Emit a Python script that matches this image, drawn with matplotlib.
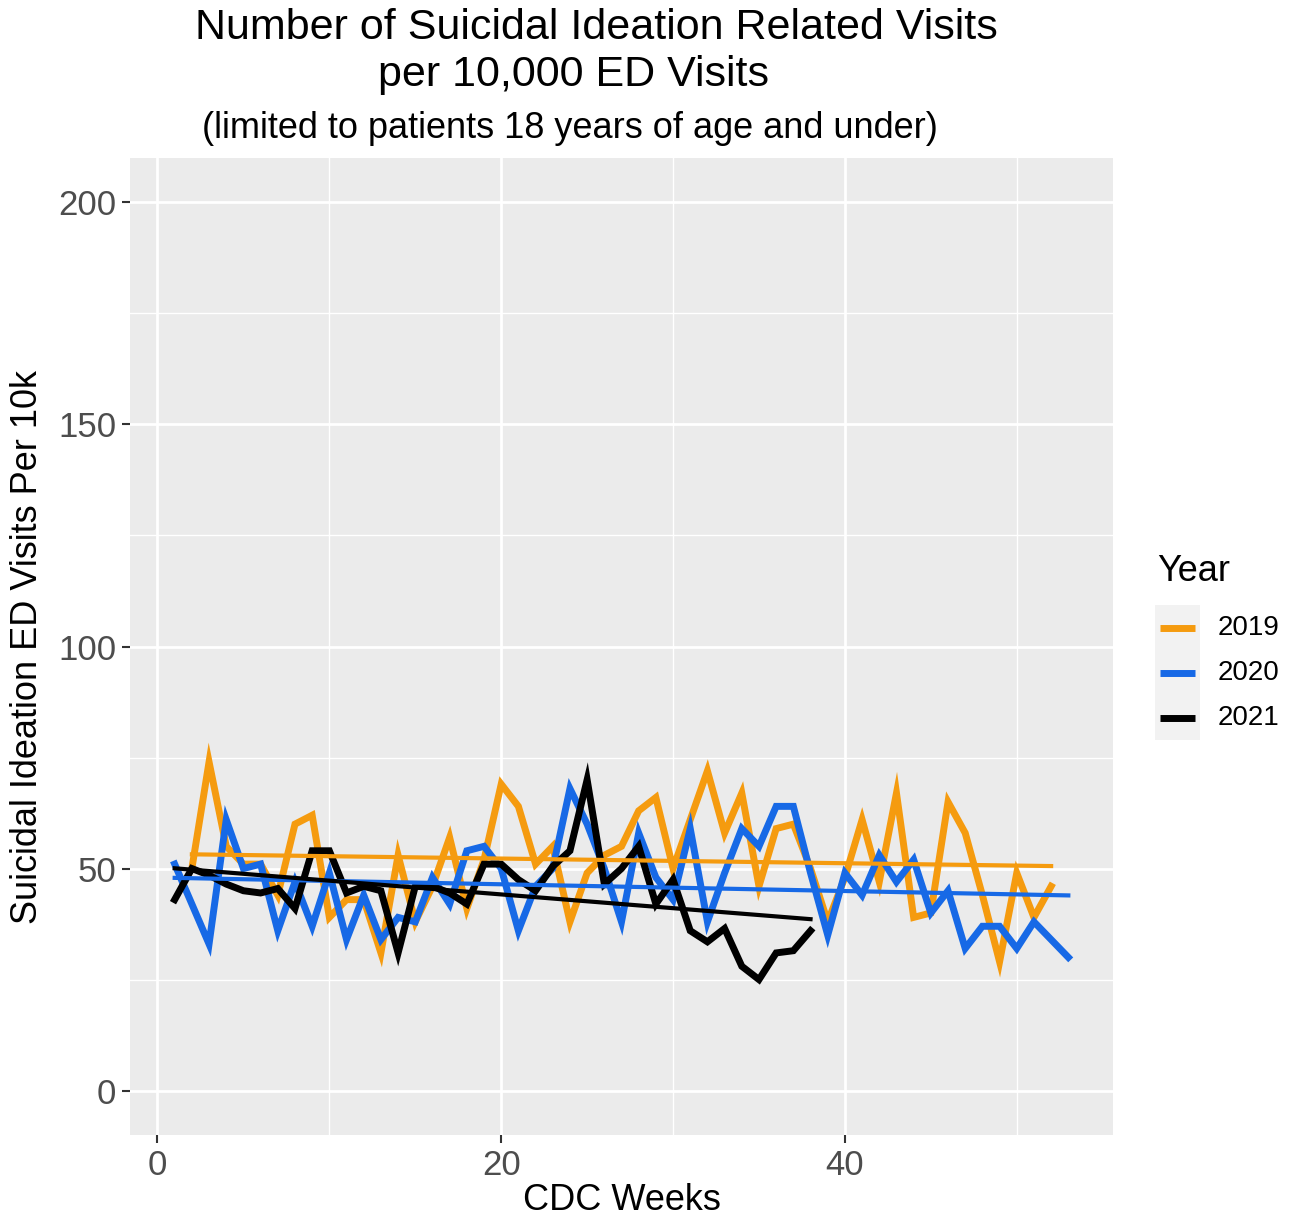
import numpy as np
import matplotlib
matplotlib.use("Agg")
import matplotlib.pyplot as plt
from matplotlib.lines import Line2D
from matplotlib.patches import Rectangle
from matplotlib.ticker import MultipleLocator

plt.rcParams["font.family"] = ["Liberation Sans", "DejaVu Sans"]

# Weekly suicidal-ideation visit rates per 10,000 ED visits
weeks_2019 = list(range(2, 53))
rate_2019 = [50, 74, 55, 51, 51, 44, 60, 62, 39, 43, 43, 31, 53, 38, 46, 57, 41, 52, 69,
             64, 51, 55, 38, 49, 53, 55, 63, 66, 50, 61, 72, 58, 67, 46, 59, 60, 50, 38,
             48, 61, 47, 67, 39, 40, 65, 58, 44, 29, 49, 39, 46]

weeks_2020 = list(range(1, 54))
rate_2020 = [51, 42, 33, 61, 50, 51, 36, 47, 37, 49, 34, 44, 34, 39, 38, 48, 42, 54, 55,
             50, 36, 46, 50, 68, 60, 50, 38, 58, 48, 43, 59, 38, 49, 59, 55, 64, 64, 49,
             35, 49, 44, 53, 47, 52, 40, 45, 32, 37, 37, 32, 38, 34, 30]

weeks_2021 = list(range(1, 39))
rate_2021 = [43, 50, 48.5, 46.5, 45, 44.5, 45.5, 41, 54, 54, 44.5, 46, 45, 31, 46, 46,
             44.5, 42, 51, 51, 47.5, 45, 50.5, 54, 70, 46.5, 50, 55, 42, 47.5, 36, 33.5,
             36.5, 28, 25, 31, 31.5, 36]

years = ["2019", "2020", "2021"]
colors = ["#F59B0F", "#1769E6", "#000000"]
series = [(weeks_2019, rate_2019), (weeks_2020, rate_2020), (weeks_2021, rate_2021)]

W, H, DPI = 1294, 1220, 100
fig = plt.figure(figsize=(W / DPI, H / DPI), dpi=DPI)
ax = fig.add_axes([130 / W, 1 - 1135 / H, (1113 - 130) / W, (1135 - 158) / H])

ax.set_facecolor("#EBEBEB")
for s in ax.spines.values():
    s.set_visible(False)

ax.set_xlim(1 - 0.05 * 52, 53 + 0.05 * 52)
ax.set_ylim(-10, 210)
ax.xaxis.set_major_locator(MultipleLocator(20))
ax.xaxis.set_minor_locator(MultipleLocator(10))
ax.yaxis.set_major_locator(MultipleLocator(50))
ax.yaxis.set_minor_locator(MultipleLocator(25))
ax.grid(which="major", color="white", linewidth=2.0)
ax.grid(which="minor", color="white", linewidth=1.0)
ax.set_axisbelow(True)
ax.tick_params(which="major", length=6, width=1.5, color="#333333",
               labelsize=25, labelcolor="#4D4D4D", pad=4)
ax.tick_params(which="minor", length=0)

for (wk, rt), col in zip(series, colors):
    ax.plot(wk, rt, color=col, linewidth=5.0, solid_joinstyle="miter", zorder=3)

# Linear trend per year
for (wk, rt), col in zip(series, colors):
    x = np.asarray(wk, dtype=float)
    y = np.asarray(rt, dtype=float)
    b1, b0 = np.polyfit(x, y, 1)
    ax.plot([x.min(), x.max()], [b0 + b1 * x.min(), b0 + b1 * x.max()],
            color=col, linewidth=3.0, zorder=4)

ax.set_xlabel("CDC Weeks", fontsize=26)
ax.set_ylabel("Suicidal Ideation ED Visits Per 10k", fontsize=26)
ax.xaxis.set_label_coords(0.5, (1135 - 1200) / (1135 - 158))
ax.yaxis.set_label_coords((28 - 130) / (1113 - 130), 0.5)
ax.xaxis.label.set_verticalalignment("center")
ax.yaxis.label.set_verticalalignment("center")

fig.text(596 / W, 1 - 28 / H, "Number of Suicidal Ideation Related Visits",
         ha="center", va="center", fontsize=31)
fig.text(574 / W, 1 - 75 / H, "per 10,000 ED Visits",
         ha="center", va="center", fontsize=31)
fig.text(570 / W, 1 - 128 / H, "(limited to patients 18 years of age and under)",
         ha="center", va="center", fontsize=26)

# Legend
fig.text(1157 / W, 1 - 572 / H, "Year", ha="left", va="center", fontsize=26)
fig.add_artist(Rectangle((1155 / W, 1 - 740 / H), 45 / W, 135 / H,
                         transform=fig.transFigure, facecolor="#F2F2F2",
                         edgecolor="none"))
for i, (yr, col) in enumerate(zip(years, colors)):
    yy = 1 - (628 + 45 * i) / H
    fig.add_artist(Line2D([1160 / W, 1195 / W], [yy, yy], transform=fig.transFigure,
                          color=col, linewidth=5.0, solid_capstyle="butt"))
    fig.text(1218 / W, yy, yr, ha="left", va="center", fontsize=20)

fig.savefig("out.png", dpi=DPI, facecolor="white")
